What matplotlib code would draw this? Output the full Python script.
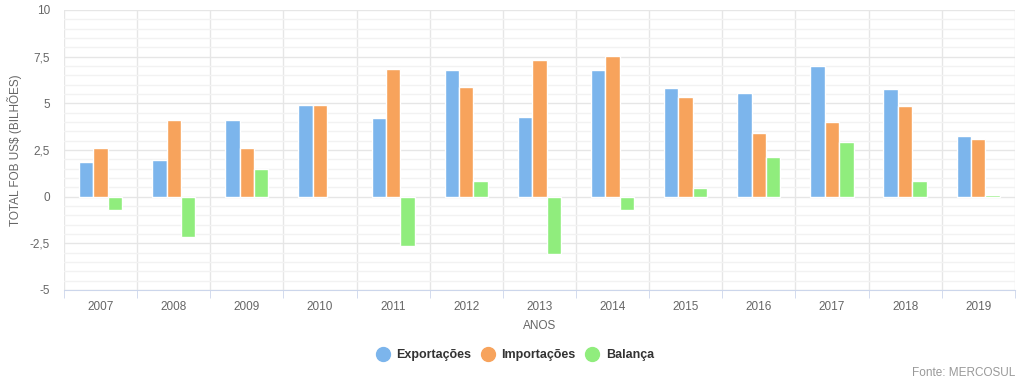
import matplotlib.pyplot as plt
import numpy as np
from matplotlib.lines import Line2D
from matplotlib.ticker import FuncFormatter, MultipleLocator

years = ["2007", "2008", "2009", "2010", "2011", "2012", "2013",
         "2014", "2015", "2016", "2017", "2018", "2019"]
exportacoes = [1.84, 1.94, 4.12, 4.89, 4.23, 6.79, 4.28,
               6.79, 5.81, 5.55, 6.99, 5.75, 3.23]
importacoes = [2.58, 4.12, 2.63, 4.89, 6.85, 5.86, 7.31,
               7.56, 5.34, 3.39, 4.01, 4.84, 3.08]
balanca = [-0.72, -2.19, 1.49, 0.0, -2.63, 0.86, -3.05,
           -0.72, 0.45, 2.10, 2.92, 0.86, 0.11]

series = [("Exportações", exportacoes, "#7cb5ec"),
          ("Importações", importacoes, "#f7a35c"),
          ("Balança", balanca, "#90ed7d")]

plt.rcParams['font.family'] = ['Liberation Sans', 'DejaVu Sans']

fig = plt.figure(figsize=(10.24, 3.83), dpi=100)
ax = fig.add_axes([0.0625, 0.243, 0.9285, 0.731])

x = np.arange(len(years))
step = 0.197
for i, (name, vals, color) in enumerate(series):
    # zero-height bars get no outline, like the original
    edges = ["white" if v != 0 else "none" for v in vals]
    ax.bar(x + (i - 1) * step, vals, width=step, color=color,
           edgecolor=edges, linewidth=1, zorder=3)

ax.set_xlim(-0.5, len(years) - 0.5)
ax.set_ylim(-5, 10)

# grid: minor every 0.5, major every 2.5, vertical lines between years
ax.yaxis.set_major_locator(MultipleLocator(2.5))
ax.yaxis.set_minor_locator(MultipleLocator(0.5))
ax.grid(axis="y", which="major", color="#e6e6e6", linewidth=1, zorder=0)
ax.grid(axis="y", which="minor", color="#f2f2f2", linewidth=1, zorder=0)
for b in np.arange(-0.5, len(years), 1):
    ax.axvline(b, color="#e6e6e6", linewidth=1, zorder=0)

ax.set_xticks(x)
ax.set_xticklabels(years)
ax.set_xticks(np.arange(-0.5, len(years), 1), minor=True)
ax.tick_params(axis="x", which="major", length=0, pad=8,
               labelsize=8.5, labelcolor="#666666")
ax.tick_params(axis="x", which="minor", length=6, color="#ccd6eb")
ax.tick_params(axis="y", which="both", length=0, pad=10,
               labelsize=8.5, labelcolor="#666666")
ax.yaxis.set_major_formatter(FuncFormatter(
    lambda v, p: f"{v:g}".replace(".", ",")))

for side in ("left", "right", "top"):
    ax.spines[side].set_visible(False)
ax.spines["bottom"].set_color("#ccd6eb")

ax.set_xlabel("ANOS", fontsize=8.5, color="#666666", labelpad=5)
ax.set_ylabel("TOTAL FOB US$ (BILHÕES)", fontsize=8.5, color="#666666",
              labelpad=6)

handles = [Line2D([], [], marker="o", linestyle="", markersize=10,
                  markerfacecolor=c, markeredgecolor=c)
           for _, _, c in series]
fig.legend(handles, [s[0] for s in series], loc="center",
           bbox_to_anchor=(0.5, 0.073), ncol=3, frameon=False,
           handletextpad=0.1, columnspacing=0.3,
           prop={"size": 9, "weight": "bold"}, labelcolor="#333333")

fig.text(0.991, 0.025, "Fonte: MERCOSUL", ha="right", va="center",
         fontsize=8.5, color="#999999")

fig.savefig("out.png", dpi=100)
